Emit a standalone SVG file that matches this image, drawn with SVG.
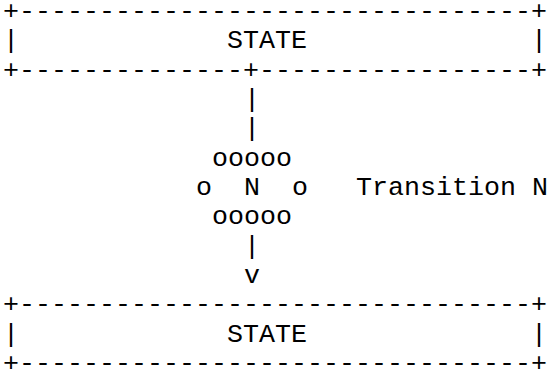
<svg xmlns="http://www.w3.org/2000/svg" width="548" height="374" viewBox="0 0 548 374">
<style>
text{font-family:"Courier New","Liberation Mono",monospace;font-size:26.67px;fill:#000;white-space:pre}
</style>
<rect width="548" height="374" fill="#fff"/>
<g id="state-top">
<text x="3" y="19" xml:space="preserve">+--------------------------------+</text>
<text x="3" y="48.3" xml:space="preserve">|             STATE              |</text>
<text x="3" y="77.6" xml:space="preserve">+--------------+-----------------+</text>
</g>
<g id="connectors">
<text x="244" y="107" xml:space="preserve">|</text>
<text x="244" y="136.3" xml:space="preserve">|</text>
<text x="244" y="253.6" xml:space="preserve">|</text>
<text x="244" y="283" xml:space="preserve">v</text>
</g>
<g id="transition-n">
<text x="212" y="165.6" xml:space="preserve">ooooo</text>
<text x="196" y="194.9" xml:space="preserve">o  N  o   Transition N</text>
<text x="212" y="224.3" xml:space="preserve">ooooo</text>
</g>
<g id="state-bottom">
<text x="3" y="312.3" xml:space="preserve">+--------------------------------+</text>
<text x="3" y="341.6" xml:space="preserve">|             STATE              |</text>
<text x="3" y="371" xml:space="preserve">+--------------------------------+</text>
</g>
</svg>
